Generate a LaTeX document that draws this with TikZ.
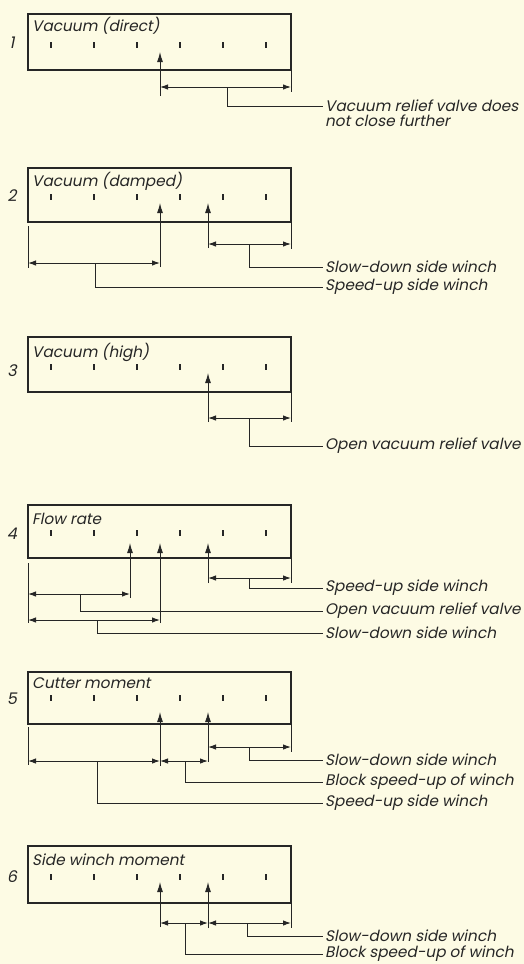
\documentclass[tikz,border=0pt]{standalone}
\usepackage{fontspec}
\setmainfont{Poppins}[FakeSlant=0.2]
\usetikzlibrary{arrows.meta}
\definecolor{paper}{HTML}{FDFBE4}
\definecolor{ink}{HTML}{262626}
\tikzset{
  ln/.style={draw=ink, line width=1pt},
  frame/.style={draw=ink, line width=1.1pt},
  tickln/.style={draw=ink, line width=1.4pt},
  tip/.tip={Latex[length=8pt,width=5.5pt]},
  dim/.style={ln, tip-tip},
  ptr/.style={ln, -{Latex[length=10pt,width=6pt]}},
  txt/.style={anchor=west, inner xsep=2pt, inner ysep=0pt, font=\fontsize{15.3}{17}\selectfont, text=ink},
  ttl/.style={anchor=west, inner sep=0pt, font=\fontsize{15.3}{17}\selectfont, text=ink},
  num/.style={inner sep=0pt, font=\fontsize{16}{17}\selectfont, text=ink},
}
\newcommand{\ticks}[1]{\foreach \tx in {51,94,...,266} \draw[tickln] (\tx,#1-3) -- (\tx,#1+3);}
\begin{document}
\begin{tikzpicture}[x=1pt,y=-1pt]
\fill[paper] (0,0) rectangle (524,964);
\useasboundingbox (0,0) rectangle (524,964);

% ---- 1: vacuum (direct)
\draw[frame] (28,14) rectangle (291,70);
\node[num] (n1) at (12,43) {1};
\node[ttl] (t1) at (32,26) {Vacuum (direct)};
\ticks{45}
\draw[ptr] (160,96) -- (160,52);
\draw[ln] (291,70) -- (291,92);
\coordinate (d1a) at (160,87); \coordinate (d1b) at (291,87);
\draw[dim] (d1a) -- (d1b);
\node[txt] (a1) at (323,106) {Vacuum relief valve does};
\node[txt] (a1b) at (323,121) {not close further};
\draw[ln] (227,87) |- (a1.west);

% ---- 2: vacuum (damped)
\draw[frame] (28,168) rectangle (291,222);
\node[num] (n2) at (12,196) {2};
\node[ttl] (t2) at (32,181) {Vacuum (damped)};
\ticks{197}
\draw[ptr] (160,267) -- (160,203);
\draw[ptr] (208,248) -- (208,203);
\draw[ln] (291,222) -- (291,249);
\draw[ln] (28,226) -- (28,268);
\draw[dim] (208,244) -- (291,244);
\draw[dim] (28,263) -- (160,263);
\node[txt] (a2) at (323,267) {Slow-down side winch};
\node[txt] (b2) at (323,287) {Speed-up side winch};
\draw[ln] (249,244) |- (a2.west);
\draw[ln] (95,263) |- (b2.west);

% ---- 3: vacuum (high)
\draw[frame] (28,337) rectangle (291,392);
\node[num] (n3) at (12,371) {3};
\node[ttl] (t3) at (32,352) {Vacuum (high)};
\ticks{367}
\draw[ptr] (208,422) -- (208,373);
\draw[ln] (291,392) -- (291,422);
\draw[dim] (208,418) -- (291,418);
\node[txt] (a3) at (323,446) {Open vacuum relief valve};
\draw[ln] (249,418) |- (a3.west);

% ---- 4: flow rate
\draw[frame] (28,505) rectangle (291,558);
\node[num] (n4) at (12,534) {4};
\node[ttl] (t4) at (32,519) {Flow rate};
\ticks{533}
\draw[ptr] (130,598) -- (130,543);
\draw[ptr] (160,623) -- (160,543);
\draw[ptr] (208,583) -- (208,543);
\draw[ln] (291,558) -- (291,583);
\draw[ln] (28,563) -- (28,623);
\draw[dim] (208,578) -- (291,578);
\draw[dim] (28,594) -- (130,594);
\draw[dim] (28,620) -- (160,620);
\node[txt] (a4) at (323,588) {Speed-up side winch};
\node[txt] (b4) at (323,611) {Open vacuum relief valve};
\node[txt] (c4) at (323,633) {Slow-down side winch};
\draw[ln] (249,578) |- (a4.west);
\draw[ln] (80,594) |- (b4.west);
\draw[ln] (97,620) |- (c4.west);

% ---- 5: cutter moment
\draw[frame] (28,672) rectangle (291,724);
\node[num] (n5) at (12,699) {5};
\node[ttl] (t5) at (32,683) {Cutter moment};
\ticks{698}
\draw[ptr] (160,766) -- (160,712);
\draw[ptr] (208,762) -- (208,712);
\draw[ln] (291,724) -- (291,752);
\draw[ln] (28,727) -- (28,765);
\draw[dim] (208,747) -- (291,747);
\draw[dim] (28,761) -- (160,761);
\draw[dim] (160,761) -- (208,761);
\node[txt] (a5) at (323,760) {Slow-down side winch};
\node[txt] (b5) at (323,782) {Block speed-up of winch};
\node[txt] (c5) at (323,803) {Speed-up side winch};
\draw[ln] (249,747) |- (a5.west);
\draw[ln] (185,761) |- (b5.west);
\draw[ln] (97,761) |- (c5.west);

% ---- 6: side winch moment
\draw[frame] (28,846) rectangle (291,903);
\node[num] (n6) at (12,877) {6};
\node[ttl] (t6) at (32,860) {Side winch moment};
\ticks{877}
\draw[ptr] (160,927) -- (160,882);
\draw[ptr] (208,928) -- (208,882);
\draw[ln] (291,903) -- (291,928);
\draw[dim] (160,923) -- (208,923);
\draw[dim] (208,923) -- (291,923);
\node[txt] (a6) at (323,936) {Slow-down side winch};
\node[txt] (b6) at (323,954) {Block speed-up of winch};
\draw[ln] (247,923) |- (a6.west);
\draw[ln] (185,923) |- (b6.west);
\end{tikzpicture}
\end{document}
